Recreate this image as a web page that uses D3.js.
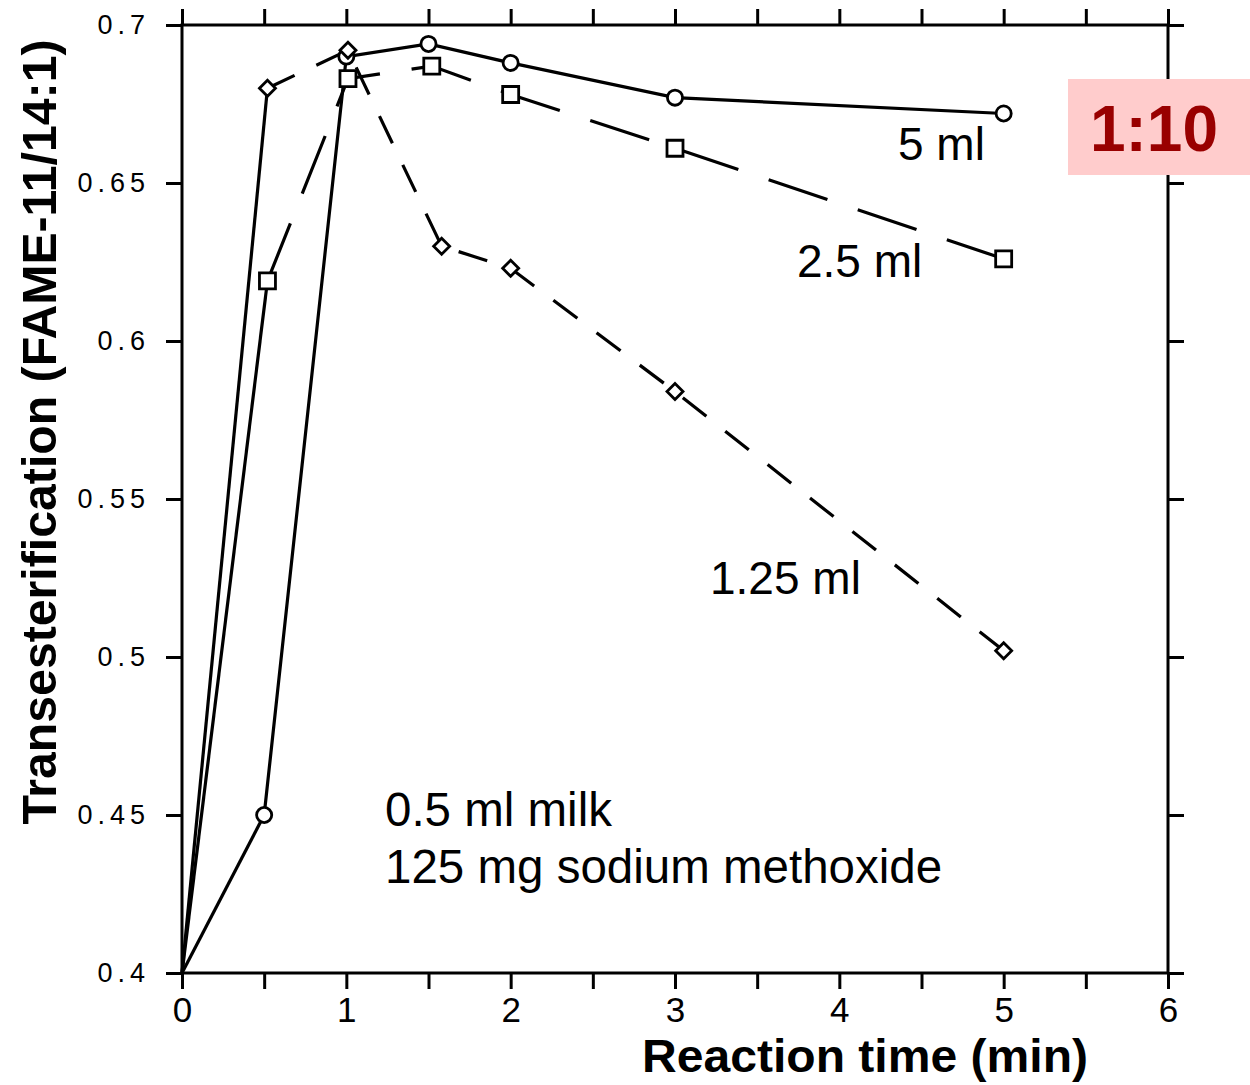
<!DOCTYPE html>
<html>
<head>
<meta charset="utf-8">
<script src="https://cdn.jsdelivr.net/npm/d3@7"></script>
<style>
  body { margin: 0; background: #fff; }
  svg { display: block; font-family: "Liberation Sans", Arial, sans-serif; }
</style>
</head>
<body>
<div id="chart"></div>
<script>
// data (reaction time in min, FAME ratio)
var times5 = [0, 0.5, 1, 1.5, 2, 3, 5];
var values5 = [0.400, 0.450, 0.690, 0.694, 0.688, 0.677, 0.672];

var times25 = [0, 0.52, 1.01, 1.52, 2, 3, 5];
var values25 = [0.400, 0.619, 0.683, 0.687, 0.678, 0.661, 0.626];

var times125 = [0, 0.52, 1.01, 1.58, 2, 3, 5];
var values125 = [0.400, 0.680, 0.692, 0.630, 0.623, 0.584, 0.502];

var seriesNames = ["5 ml", "2.5 ml", "1.25 ml"];
var xTicks = [0, 1, 2, 3, 4, 5, 6];
var yTicks = [0.4, 0.45, 0.5, 0.55, 0.6, 0.65, 0.7];

var width = 1250, height = 1085;
var margin = {top: 25, right: 82, bottom: 112, left: 182};

var svg = d3.select("#chart").append("svg")
    .attr("width", width)
    .attr("height", height);

var x = d3.scaleLinear().domain([0, 6]).range([margin.left, width - margin.right]);
var y = d3.scaleLinear().domain([0.4, 0.7]).range([height - margin.bottom, margin.top]);

// axes, ticks point outward on all four sides
var minorX = d3.range(0, 6.01, 0.5);

function styleAxis(g) {
  g.select(".domain").remove();
  g.selectAll(".tick line").attr("stroke", "#000").attr("stroke-width", 3);
}

svg.append("g")
    .attr("transform", "translate(0," + y(0.4) + ")")
    .call(d3.axisBottom(x).tickValues(minorX).tickSize(16).tickPadding(8)
      .tickFormat(function(d) { return xTicks.indexOf(d) >= 0 ? d3.format("d")(d) : ""; }))
    .call(styleAxis)
    .selectAll("text")
      .attr("font-size", 35)
      .attr("font-family", "Liberation Sans, Arial, sans-serif")
      .attr("fill", "#000");

svg.append("g")
    .attr("transform", "translate(0," + y(0.7) + ")")
    .call(d3.axisTop(x).tickValues(minorX).tickSize(16).tickFormat(""))
    .call(styleAxis);

svg.append("g")
    .attr("transform", "translate(" + x(0) + ",0)")
    .call(d3.axisLeft(y).tickValues(yTicks).tickSize(16).tickPadding(16)
      .tickFormat(function(d) { return d3.format("")(+d.toFixed(2)); }))
    .call(styleAxis)
    .selectAll("text")
      .attr("font-size", 27)
      .attr("letter-spacing", 5)
      .attr("font-family", "Liberation Sans, Arial, sans-serif")
      .attr("fill", "#000");

svg.append("g")
    .attr("transform", "translate(" + x(6) + ",0)")
    .call(d3.axisRight(y).tickValues(yTicks).tickSize(16).tickFormat(""))
    .call(styleAxis);

// frame
svg.append("rect")
    .attr("x", x(0))
    .attr("y", y(0.7))
    .attr("width", x(6) - x(0))
    .attr("height", y(0.4) - y(0.7))
    .attr("fill", "none")
    .attr("stroke", "#000")
    .attr("stroke-width", 3);

// series
var line = d3.line()
    .x(function(d) { return x(d[0]); })
    .y(function(d) { return y(d[1]); });

var series = [
  {pts: d3.zip(times5, values5), dash: null, marker: "circle"},
  {pts: d3.zip(times25, values25), dash: "62,32", marker: "square"},
  {pts: d3.zip(times125, values125), dash: "30,24", marker: "diamond"}
];

series.forEach(function(s) {
  // first leg from the origin is drawn solid in the figure
  svg.append("path")
      .attr("d", line(s.pts.slice(0, 2)))
      .attr("fill", "none")
      .attr("stroke", "#000")
      .attr("stroke-width", 3.2);
  svg.append("path")
      .attr("d", line(s.pts.slice(1)))
      .attr("fill", "none")
      .attr("stroke", "#000")
      .attr("stroke-width", 3.2)
      .attr("stroke-dasharray", s.dash);
});

series.forEach(function(s) {
  var m = svg.append("g").selectAll("path")
    .data(s.pts.slice(1))
    .enter().append("path")
      .attr("transform", function(d) { return "translate(" + x(d[0]) + "," + y(d[1]) + ")"; })
      .attr("fill", "#fff")
      .attr("stroke", "#000")
      .attr("stroke-width", 2.8);
  if (s.marker == "circle") m.attr("d", d3.symbol(d3.symbolCircle, 180));
  else if (s.marker == "square") m.attr("d", "M-8,-8H8V8H-8Z");
  else m.attr("d", "M0,-8L8,0L0,8L-8,0Z");
});

// in-plot labels
var labels = [
  {text: seriesNames[0], x: 898, y: 160, size: 46},
  {text: seriesNames[1], x: 797, y: 277, size: 46},
  {text: seriesNames[2], x: 710, y: 594, size: 46},
  {text: "0.5 ml milk", x: 385, y: 826, size: 47.5},
  {text: "125 mg sodium methoxide", x: 385, y: 883, size: 47.5}
];
svg.selectAll(".lbl")
  .data(labels)
  .enter().append("text")
    .attr("class", "lbl")
    .attr("x", function(d) { return d.x; })
    .attr("y", function(d) { return d.y; })
    .attr("font-size", function(d) { return d.size; })
    .attr("fill", "#000")
    .text(function(d) { return d.text; });

// axis titles
svg.append("text")
    .attr("x", 865)
    .attr("y", 1072)
    .attr("text-anchor", "middle")
    .attr("font-size", 46)
    .attr("font-weight", "bold")
    .attr("textLength", 446)
    .attr("lengthAdjust", "spacingAndGlyphs")
    .text("Reaction time (min)");

svg.append("text")
    .attr("transform", "translate(56,432) rotate(-90)")
    .attr("text-anchor", "middle")
    .attr("font-size", 48)
    .attr("font-weight", "bold")
    .attr("textLength", 785)
    .attr("lengthAdjust", "spacingAndGlyphs")
    .text("Transesterification (FAME-11/14:1)");

// ratio badge
svg.append("rect")
    .attr("x", 1068)
    .attr("y", 79)
    .attr("width", 182)
    .attr("height", 96)
    .attr("fill", "#ffcccc");

svg.append("text")
    .attr("x", 1154)
    .attr("y", 151)
    .attr("text-anchor", "middle")
    .attr("font-size", 64)
    .attr("font-weight", "bold")
    .attr("fill", "#990000")
    .text("1:10");
</script>
</body>
</html>
